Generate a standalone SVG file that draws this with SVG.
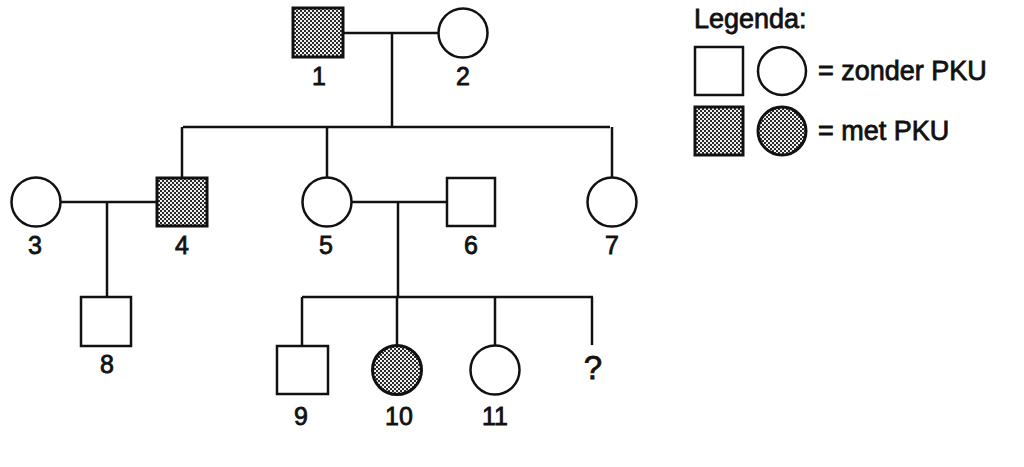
<svg xmlns="http://www.w3.org/2000/svg" width="1024" height="467" viewBox="0 0 1024 467">
<defs>
<pattern id="dots" width="4" height="4" patternUnits="userSpaceOnUse">
<rect width="4" height="4" fill="#2a2a2a"/>
<rect x="0" y="0" width="2" height="2" fill="#f0f0f0"/>
<rect x="2" y="2" width="2" height="2" fill="#f0f0f0"/>
</pattern>
<style>
.s{fill:#fff;stroke:#111;stroke-width:2.5}
.a{fill:url(#dots);stroke:#111;stroke-width:3}
.l{stroke:#111;stroke-width:2.5;fill:none}
text{font-family:"Liberation Sans",Arial,sans-serif;font-size:25px;fill:#111;stroke:#111;stroke-width:0.8}
.n{text-anchor:middle}
.g{font-size:27px}
</style>
</defs>
<rect width="1024" height="467" fill="#fff"/>
<g id="connectors">
<path class="l" d="M343 33H439M392 33V127M183 127H610M182 127V178M327 127V178M612 127V178M61 202H157M107 202V297M351 202H447M398 202V297M302 297H593M302 297V346M397 297V346M495 297V346M592 297V345"/>
</g>
<g id="n1"><rect class="a" x="293" y="8" width="50" height="49"/><text class="n" x="319" y="85">1</text></g>
<g id="n2"><circle class="s" cx="463" cy="33" r="24.5"/><text class="n" x="463" y="85">2</text></g>
<g id="n3"><circle class="s" cx="36" cy="202" r="24.5"/><text class="n" x="35" y="254">3</text></g>
<g id="n4"><rect class="a" x="157" y="178" width="50" height="48"/><text class="n" x="182" y="254">4</text></g>
<g id="n5"><circle class="s" cx="327" cy="202" r="24.5"/><text class="n" x="326" y="254">5</text></g>
<g id="n6"><rect class="s" x="447" y="178" width="48" height="48"/><text class="n" x="471" y="254">6</text></g>
<g id="n7"><circle class="s" cx="612" cy="202" r="24.5"/><text class="n" x="612" y="254">7</text></g>
<g id="n8"><rect class="s" x="81" y="297" width="50" height="49"/><text class="n" x="107" y="373">8</text></g>
<g id="n9"><rect class="s" x="277" y="346" width="51" height="48"/><text class="n" x="301" y="425">9</text></g>
<g id="n10"><circle class="a" cx="397" cy="370" r="24.5"/><text class="n" x="399" y="425">10</text></g>
<g id="n11"><circle class="s" cx="495" cy="370" r="24.5"/><text class="n" x="495" y="425">11</text></g>
<g id="nq"><text class="n" x="593" y="379" style="font-size:33px">?</text></g>
<g id="legend">
<text class="g" x="694" y="28">Legenda:</text>
<rect class="s" x="695" y="47" width="48" height="48"/>
<circle class="s" cx="782" cy="71" r="24"/>
<text class="g" x="818" y="80">= zonder PKU</text>
<rect class="a" x="695" y="107" width="48" height="48"/>
<circle class="a" cx="782" cy="131" r="24"/>
<text class="g" x="818" y="140">= met PKU</text>
</g>
</svg>
